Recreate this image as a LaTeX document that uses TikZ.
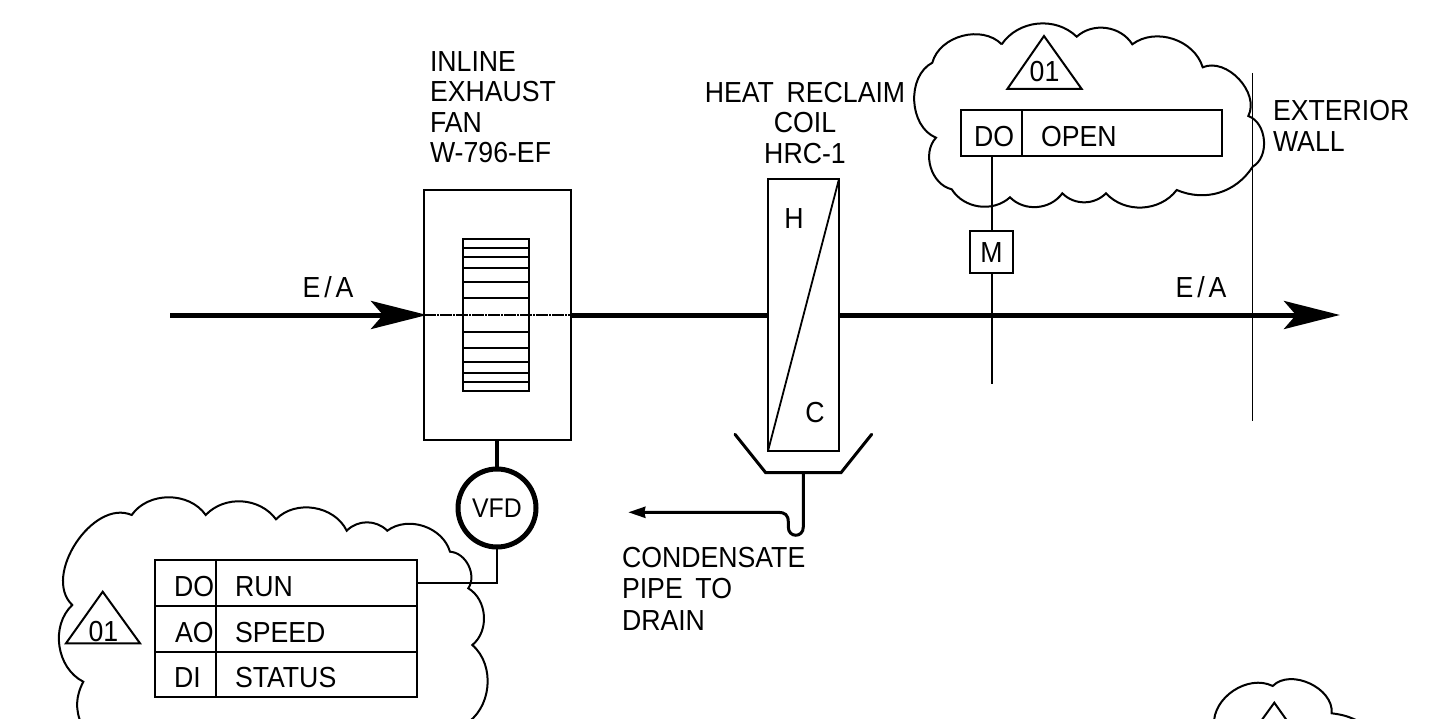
\documentclass[tikz,border=0pt]{standalone}
\usepackage{fontspec}
\setmainfont[FakeStretch=0.92,WordSpace=1.7]{Liberation Sans}
\usetikzlibrary{arrows.meta}
\tikzset{
  every node/.style={inner sep=0pt,outer sep=0pt},
  lbl/.style={anchor=base west,font=\fontsize{29}{29}\selectfont},
  clbl/.style={anchor=base,font=\fontsize{29}{29}\selectfont},
  box/.style={draw,line width=2pt,anchor=north west,minimum width=#1},
  box/.default=10pt,
  cloudline/.style={line width=2pt,line join=miter},
  bl/.style={bend left=#1},
  flow/.style={line width=5pt},
  flowtip/.style={line width=5pt,-{Stealth[length=56pt,width=28pt,inset=12pt]}},
  tag/.style={draw,line width=2pt,line join=miter}
}
\begin{document}
\begin{tikzpicture}[x=1pt,y=-1pt]
\useasboundingbox (0,0) rectangle (1432,719);
\clip (0,0) rectangle (1432,719);
\fill[white] (0,0) rectangle (1432,719);

% clouds
\draw[cloudline] (81.7,725) to[bl=25] (83.3,681.7) to[bl=55] (72.3,605) to[bl=80] (131.7,515)
  to[bl=55] (205.7,515) to[bl=50] (276,519.3) to[bl=55] (346.7,530.7) to[bl=45] (387.3,530.7)
  to[bl=55] (450,551.7) to[bl=60] (468.3,588.3) to[bl=55] (472.3,645) to[bl=55] (464,725);
\draw[cloudline] (1001.7,44.3) to[bl=50] (1076.7,36.7) to[bl=50] (1132.3,44.3) to[bl=55] (1202.7,67.3)
  to[bl=70] (1248.3,116) to[bl=65] (1252.7,166.7) to[bl=40] (1176.7,190) to[bl=50] (1106,193.3)
  to[bl=45] (1062.3,193.3) to[bl=50] (1010,197.3) to[bl=50] (951.7,189.3) to[bl=60] (936,137.7)
  to[bl=65] (932.3,62.7) to[bl=60] (1001.7,44.3);
\draw[cloudline] (1214,725) to[bl=60] (1272.7,686) to[bl=70] (1331.7,713.3) to[bl=10] (1360,722);

% tags
\draw[tag] (102.7,591.7) -- (140,643.3) -- (66,643.3) -- cycle;
\node[clbl] (tagA) at (103.5,641) {01};
\draw[tag] (1044,36) -- (1081.7,89) -- (1007.3,89) -- cycle;
\node[clbl] (tagB) at (1044.5,82) {01};
\draw[tag] (1274.3,702.7) -- (1300,739) -- (1248,739) -- cycle;

% fan
\node[box=147pt,minimum height=250pt] (fan) at (424,190) {};
\node[box=66pt,minimum height=152pt] (wheel) at (463,239) {};
\foreach \yy in {247.7,256.7,268,282.3,298,332,347.7,362,373,382}
  \draw[line width=1.8pt] (463,\yy) -- (529,\yy);
\draw[line width=2pt,dash pattern=on 12pt off 1pt on 2pt off 1pt] (fan.west) -- (fan.east);

% coil
\node[box=71pt,minimum height=272pt] (coil) at (768,179) {};
\draw[line width=1.8pt] (coil.south west) -- (coil.north east);
\node[clbl] (hlabel) at (794,229) {H};
\node[clbl] (clabel) at (815,422) {C};

% main flow
\coordinate (inlet) at (170,315);
\coordinate (outlet) at (1340,315);
\draw[flowtip,shorten >=-3pt] (inlet) -- (fan.west);
\draw[flow] (fan.east) -- (coil.west);
\draw[flowtip] (coil.east) -- (outlet);
\node[clbl] (eain) at (328,298) {E\kern4pt/\kern4pt A};
\node[clbl] (eaout) at (1201,298) {E\kern4pt/\kern4pt A};

% wall
\coordinate (walltop) at (1252.7,73);
\coordinate (wallbot) at (1252.7,421);
\draw[line width=1.3pt] (walltop) -- (wallbot);

% damper
\node[box=43pt,minimum height=42pt] (damper) at (970,231) {};
\node[clbl] (mlabel) at (991.5,262.5) {M};
\coordinate (stem) at (991.5,384);
\draw[line width=2pt] (damper.south) -- (stem);

% table top right
\node[box=60.4pt,minimum height=46pt] (doB) at (961.3,110) {};
\node[box=200.6pt,minimum height=46pt] (openB) at (1021.7,110) {};
\node[lbl] at (974,146.7) {DO};
\node[lbl] at (1041,146.7) {OPEN};
\draw[line width=2pt] (doB.south) -- (damper.north);

% table lower left
\node[box=60.4pt,minimum height=45.7pt] (doA) at (155.3,560) {};
\node[box=201pt,minimum height=45.7pt] (runA) at (215.7,560) {};
\node[box=60.4pt,minimum height=46pt] (aoA) at (155.3,605.7) {};
\node[box=201pt,minimum height=46pt] (speedA) at (215.7,605.7) {};
\node[box=60.4pt,minimum height=45.6pt] (diA) at (155.3,651.7) {};
\node[box=201pt,minimum height=45.6pt] (statusA) at (215.7,651.7) {};
\node[lbl] at (174,596) {DO};
\node[lbl] at (235,596) {RUN};
\node[lbl] at (175,642) {AO};
\node[lbl] at (235,642) {SPEED};
\node[lbl] at (174,687) {DI};
\node[lbl] at (235,687) {STATUS};

% VFD
\node[draw,circle,line width=5pt,minimum size=78pt,font=\fontsize{27}{27}\selectfont] (vfd) at (497,508) {VFD};
\draw[line width=4.5pt] (fan.south -| vfd.north) -- (vfd.north);
\draw[line width=2.4pt] (vfd.south) |- (runA.east);

% pan and condensate
\coordinate (panA) at (735,434.3);
\coordinate (panB) at (765.7,472.7);
\coordinate (panC) at (841,472.7);
\coordinate (panD) at (871.7,434.3);
\draw[line width=3pt,line cap=round] (panA) -- (panB) -- (panC) -- (panD);
\coordinate (drainTop) at (803.3,472.7);
\coordinate (drainEnd) at (628.3,512.3);
\draw[line width=3pt,-{Stealth[length=17pt,width=11pt,inset=1pt]}]
  (drainTop) -- (803.3,527) .. controls (803.3,538) and (788.3,538) .. (788.3,527)
  -- (788.3,522) .. controls (788.3,515) and (785,512.3) .. (778,512.3) -- (drainEnd);

% labels
\node[lbl] at (430,72) {INLINE};
\node[lbl] at (430,102) {EXHAUST};
\node[lbl] at (430,133) {FAN};
\node[lbl] at (430,163) {W-796-EF};
\node[clbl] at (805,103) {HEAT RECLAIM};
\node[clbl] at (805,133) {COIL};
\node[clbl] at (805,164) {HRC-1};
\node[lbl] at (1273,121) {EXTERIOR};
\node[lbl] at (1273,152) {WALL};
\node[lbl] at (622,567) {CONDENSATE};
\node[lbl] at (622,598) {PIPE TO};
\node[lbl] at (622,630) {DRAIN};
\end{tikzpicture}
\end{document}
